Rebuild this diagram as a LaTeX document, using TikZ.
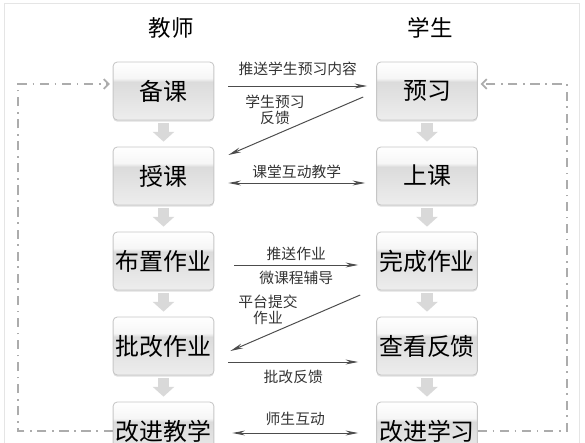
\documentclass[tikz,border=0pt]{standalone}
\usepackage{fontspec}
\newfontfamily\cjk{Noto Sans CJK SC}
\usetikzlibrary{arrows.meta,calc,shadows}
\pgfdeclareverticalshading{gloss}{100bp}{color(0bp)=(gray!14); color(25bp)=(gray!14); color(58bp)=(gray!28); color(61bp)=(gray!7); color(75bp)=(white); color(100bp)=(white)}
\tikzset{
	stage/.style={draw=gray!45,line width=.6pt,rounded corners=3pt,shading=gloss,minimum width=2.52cm,minimum height=1.45cm,inner sep=0pt,font=\cjk\fontsize{17}{20}\selectfont,drop shadow={shadow xshift=0pt,shadow yshift=-1.2pt,opacity=.25}},
	head/.style={font=\cjk\fontsize{16}{19}\selectfont},
	lbl/.style={inner sep=2pt,align=center,text=black!80,font=\cjk\fontsize{10.5}{11}\selectfont},
	flow/.style={draw=black!70,line width=.7pt,-{Stealth[length=9pt,width=3.5pt]}},
	twoway/.style={flow,{Stealth[length=9pt,width=3.5pt]}-{Stealth[length=9pt,width=3.5pt]}},
	fat/.style={draw=gray!30,line width=8.5pt,-{Triangle[width=15pt,length=7pt]},shorten >=3.5pt},
	cycleline/.style={draw=gray!65,line width=1.2pt,dash pattern=on 6.5pt off 4pt on 1.2pt off 4pt,-{Straight Barb[length=3.5pt,width=7pt]},shorten >=2pt}
}
\begin{document}
\begin{tikzpicture}[x=0.025cm,y=-0.025cm]
	\useasboundingbox (0,0) rectangle (585,442);
	\clip (0,0) rectangle (585,442);
	\draw[gray!20,line width=.6pt] (4,3) rectangle (579,470);
	\path
	(18,84) coordinate (L)
	(567,84) coordinate (R)
	;
	\node[head] (teacher) at (171,28) {教师};
	\node[head] (student) at (430,28) {学生};
	\foreach \n/\y/\a/\b in {1/91/备课/预习,2/176/授课/上课,3/261/布置作业/完成作业,4/346/批改作业/查看反馈,5/431/改进教学/改进学习} {
		\node[stage] (T\n) at (163.5,\y) {\a};
		\node[stage] (S\n) at (427,\y) {\b};
	}
	\foreach \i/\j in {1/2,2/3,3/4,4/5} {
		\draw[fat] ([yshift=-2pt]T\i.south) -- (T\j.north);
		\draw[fat] ([yshift=-2pt]S\i.south) -- (S\j.north);
	}
	\draw[cycleline] (T5.west) -| (L) -- (T1.west |- L);
	\draw[cycleline] (S5.east) -| (R) -- (S1.east |- R);
	\draw[flow] ($(T1.east)+(14,-5)$) -- node[lbl,above=5pt] (push) {推送学生预习内容} ($(S1.west)+(-9,-5)$);
	\draw[flow] ($(S1.west)+(-13,6)$) -- ($(T2.east)+(14,-21)$);
	\node[lbl] (preview) at (275,110) {学生预习\\反馈};
	\draw[twoway] ($(T2.east)+(14,7)$) -- node[lbl,above=1pt] (class) {课堂互动教学} ($(S2.west)+(-11,7)$);
	\draw[flow] ($(T3.east)+(20,4)$) -- node[lbl,above=1pt] (hw) {推送作业} node[lbl,below=2pt] (micro) {微课程辅导} ($(S3.west)+(-18,4)$);
	\draw[flow] ($(S3.west)+(-16,34)$) -- ($(T4.east)+(16,5)$);
	\node[lbl] (submit) at (268,310) {平台提交\\作业};
	\draw[flow] ($(T4.east)+(14,16)$) -- node[lbl,below=3.5pt] (mark) {批改反馈} ($(S4.west)+(-18,16)$);
	\draw[twoway] ($(T5.east)+(18,2)$) -- node[lbl,above=3pt] (talk) {师生互动} ($(S5.west)+(-18,2)$);
\end{tikzpicture}
\end{document}
